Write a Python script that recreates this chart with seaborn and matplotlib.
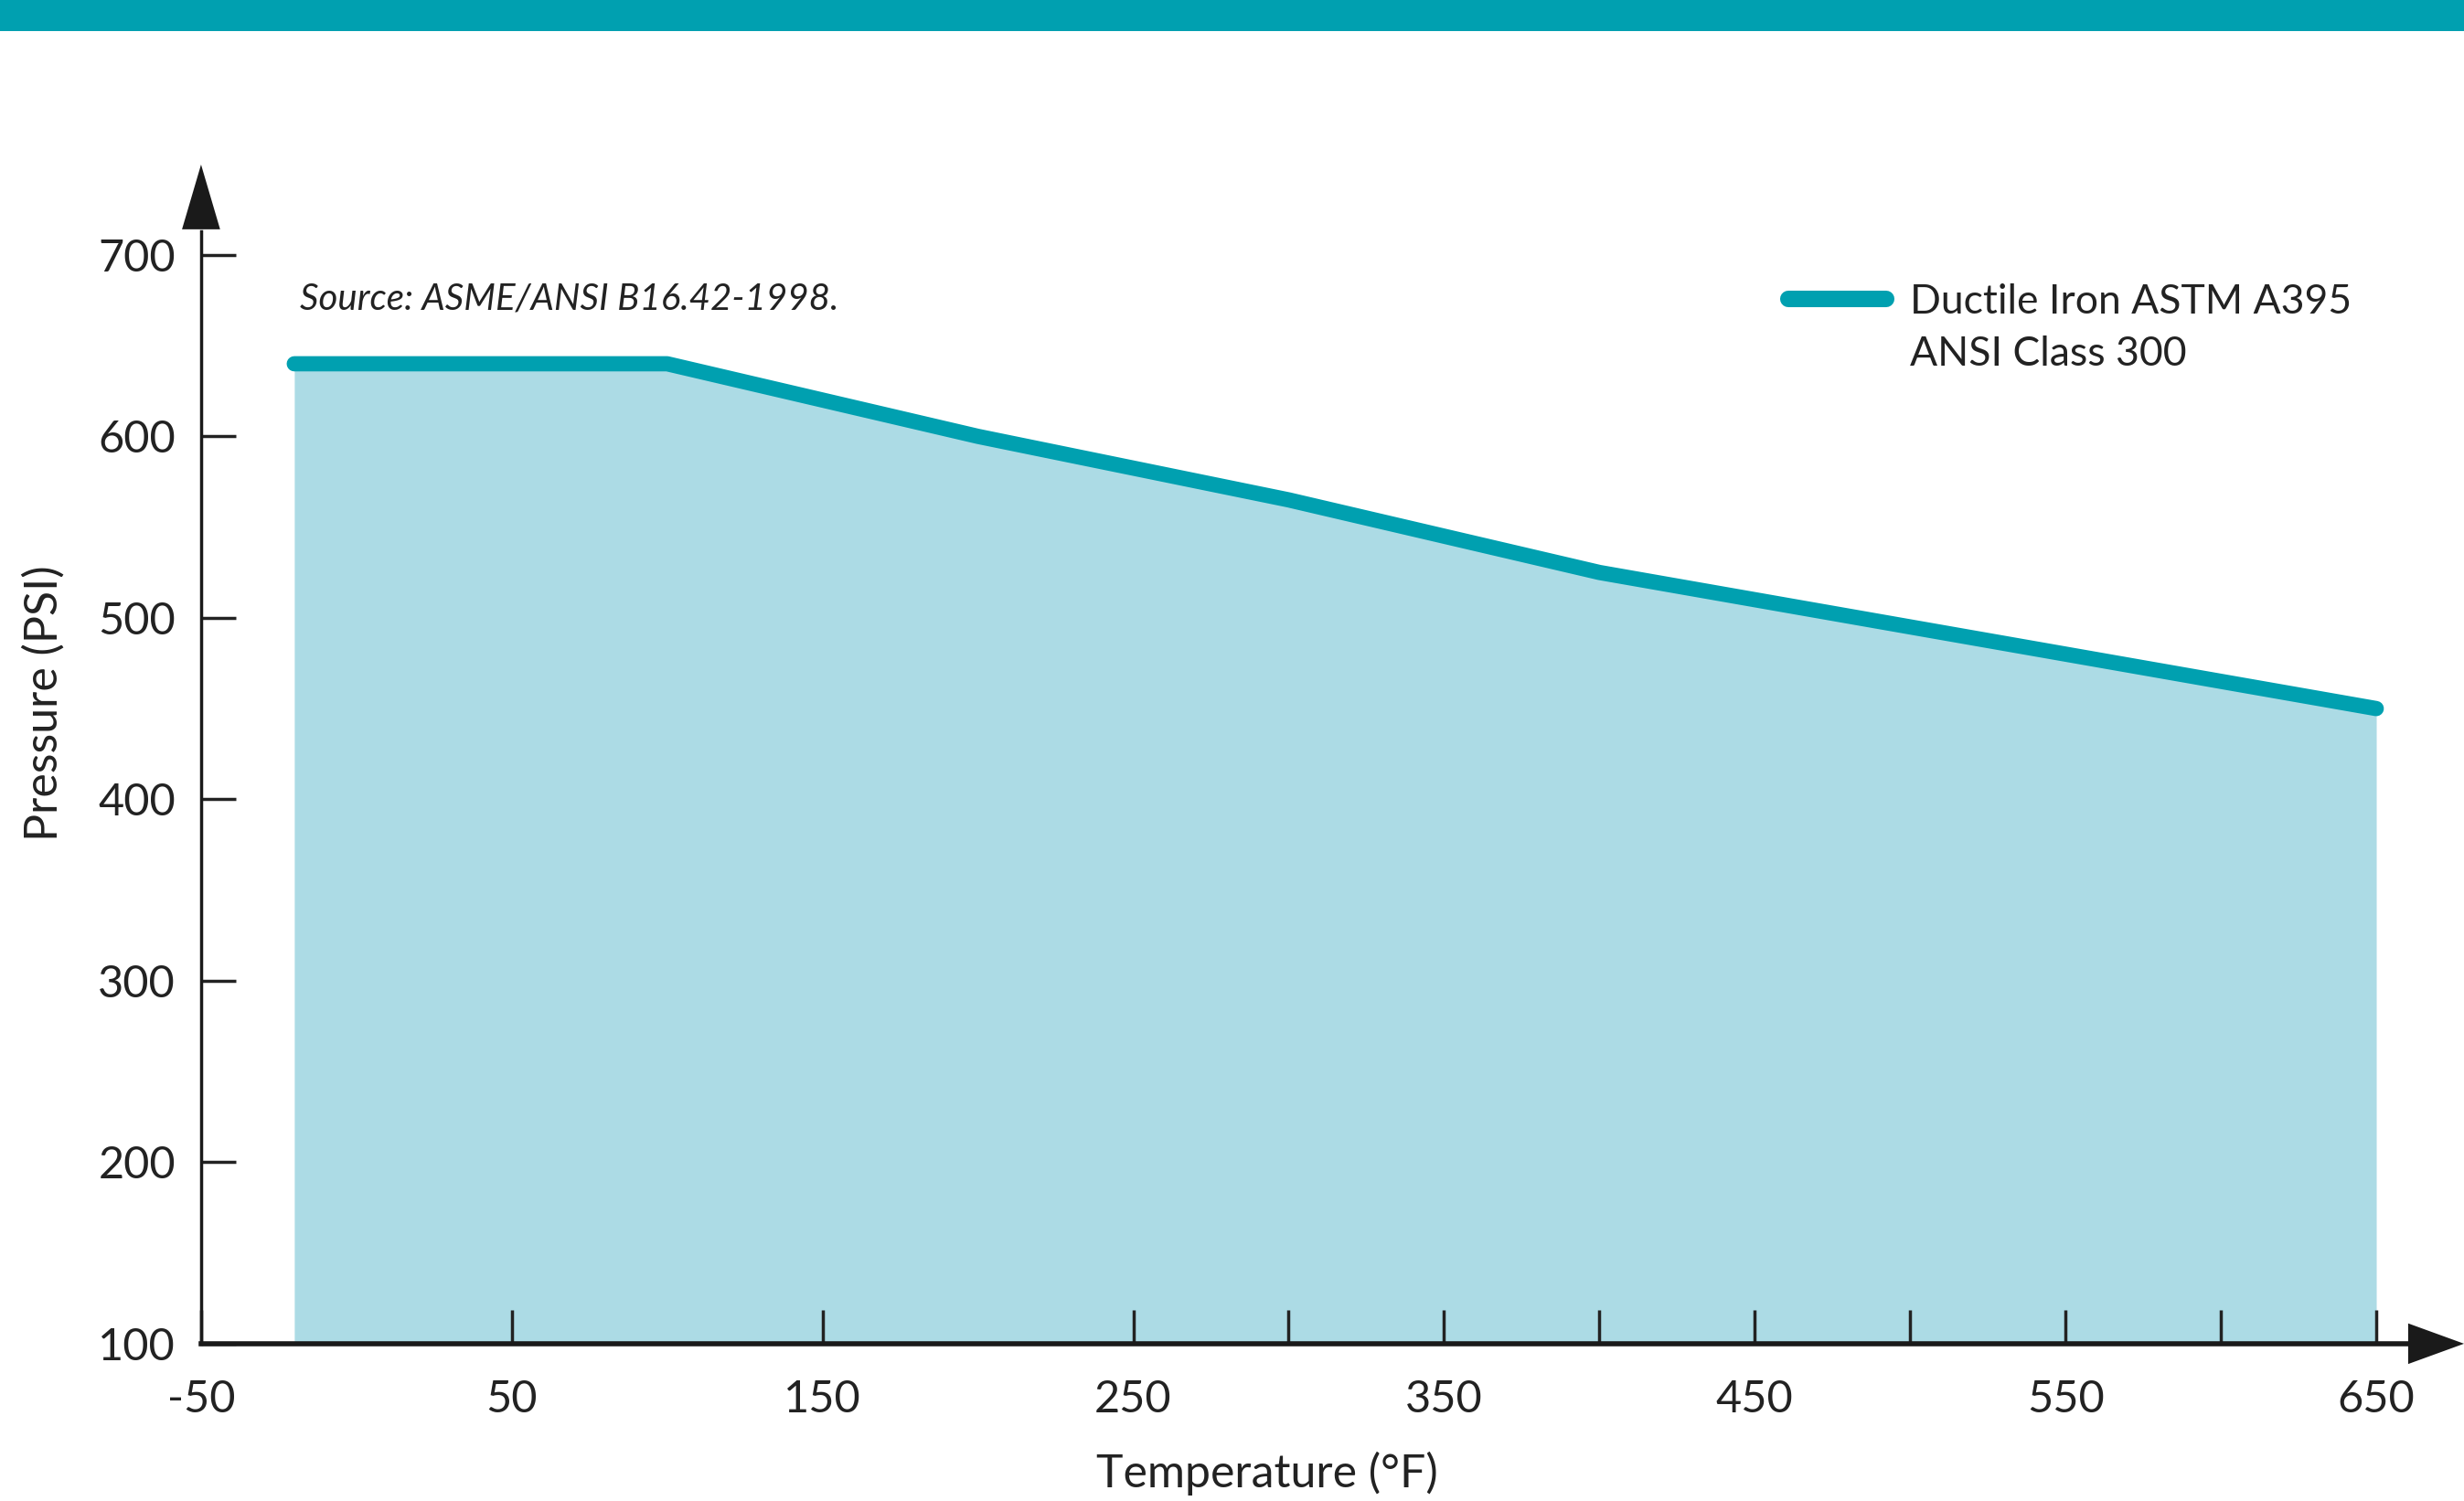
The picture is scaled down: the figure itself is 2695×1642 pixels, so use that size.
import pandas as pd
import matplotlib
matplotlib.use("Agg")
import matplotlib.pyplot as plt
import seaborn as sns
from matplotlib.lines import Line2D
from matplotlib.patches import Rectangle

# DATA (ASME/ANSI B16.42 ductile iron, class 300)
temps = [-20, 100, 200, 300, 400, 500, 600, 650]
pressures = [640, 640, 600, 565, 525, 495, 465, 450]
x_labels = [-50, 50, 150, 250, 350, 450, 550, 650]
x_minor = [300, 400, 500, 600]
y_ticks = [100, 200, 300, 400, 500, 600, 700]
series_name = "Ductile Iron ASTM A395"
series_sub = "ANSI Class 300"
source_note = "Source: ASME/ANSI B16.42-1998."

TEAL = "#00a0b0"
FILL = "#acdbe5"
W, H = 2695, 1642

sns.set_theme(style="white")
plt.rcParams["font.family"] = ["Lato", "DejaVu Sans"]
plt.rcParams["axes.unicode_minus"] = False

df = pd.DataFrame({"Temperature": temps, "Pressure": pressures})

fig = plt.figure(figsize=(W / 100, H / 100), dpi=100)
ax = fig.add_axes([0.0816, 0.1048, 0.977 - 0.0816, 0.8459 - 0.1048])
ax.set_axisbelow(False)

ax.fill_between(df["Temperature"], df["Pressure"], 100, color=FILL, lw=0, zorder=1)
sns.lineplot(data=df, x="Temperature", y="Pressure", ax=ax, color=TEAL, lw=12,
             solid_capstyle="round", solid_joinstyle="round", zorder=3)

ax.set_xlim(-50, 660)
ax.set_ylim(100, 713)
ax.set_xticks(x_labels)
ax.set_xticks(x_minor, minor=True)
ax.set_yticks(y_ticks)
ax.tick_params(axis="both", which="both", direction="in", colors="#222222",
               bottom=True, left=True, labelsize=35, length=27, width=2.5)
ax.tick_params(axis="x", pad=28)
ax.tick_params(axis="y", pad=20)
ax.set_xlabel("Temperature (°F)", fontsize=36, color="#222222")
ax.set_ylabel("Pressure (PSI)", fontsize=36, color="#222222")
ax.xaxis.label.set_va("center")
ax.xaxis.set_label_coords(0.483, -0.117)
ax.yaxis.label.set_va("center")
ax.yaxis.set_label_coords(-0.071, 0.576)

for s in ["top", "right"]:
    ax.spines[s].set_visible(False)
ax.spines["left"].set_linewidth(2.5)
ax.spines["bottom"].set_linewidth(4)
for s in ["left", "bottom"]:
    ax.spines[s].set_color("#1a1a1a")
    ax.spines[s].set_zorder(4)

# axis arrows
ax.annotate("", xy=(1.0257, 0), xytext=(0.999, 0), xycoords="axes fraction",
            annotation_clip=False,
            arrowprops=dict(arrowstyle="-|>,head_length=44,head_width=16",
                            mutation_scale=1, color="#1a1a1a", lw=0,
                            shrinkA=0, shrinkB=0))
ax.annotate("", xy=(0, 1.06), xytext=(0, 0.999), xycoords="axes fraction",
            annotation_clip=False,
            arrowprops=dict(arrowstyle="-|>,head_length=51,head_width=15",
                            mutation_scale=1, color="#1a1a1a", lw=0,
                            shrinkA=0, shrinkB=0))

# legend (two text lines, handle on the first one)
handles = [Line2D([0], [0], color=TEAL, lw=13, solid_capstyle="round"),
           Line2D([], [], alpha=0)]
fig.legend(handles, [series_name, series_sub], loc="upper left",
           bbox_to_anchor=(1956 / W, 1 - 310 / H), frameon=False, fontsize=32,
           handlelength=2.4, handletextpad=0.6, labelspacing=0.35,
           borderpad=0, borderaxespad=0, labelcolor="#222222")

fig.text(328 / W, 1 - 327 / H, source_note, style="italic", fontsize=29,
         color="#222222", va="center", ha="left")

# top banner
fig.add_artist(Rectangle((0, 1 - 34 / H), 1, 34 / H, transform=fig.transFigure,
                         color=TEAL, lw=0))

fig.savefig("out.png", dpi=100)
